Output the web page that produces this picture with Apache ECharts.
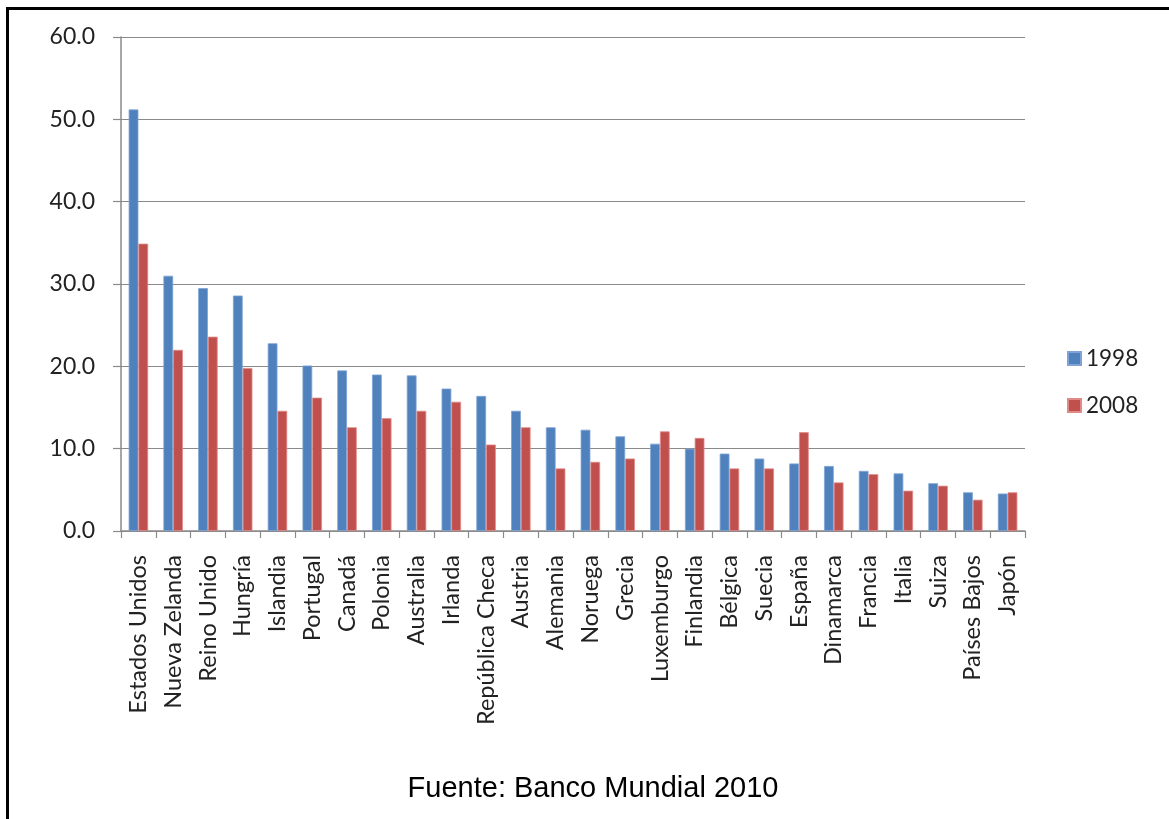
<!DOCTYPE html>
<html>
<head>
<meta charset="utf-8">
<script src="https://cdn.jsdelivr.net/npm/echarts@6/dist/echarts.min.js"></script>
<style>
html,body{margin:0;padding:0;background:#fff;}
#frame{position:absolute;left:6px;top:7px;width:1200px;height:900px;border-left:3px solid #000;border-top:3px solid #000;}
#chart{position:absolute;left:0;top:0;width:1169px;height:819px;}
</style>
</head>
<body>
<div id="frame"></div>
<div id="chart"></div>
<script>
const categories = ["Estados Unidos","Nueva Zelanda","Reino Unido","Hungría","Islandia","Portugal","Canadá","Polonia","Australia","Irlanda","República Checa","Austria","Alemania","Noruega","Grecia","Luxemburgo","Finlandia","Bélgica","Suecia","España","Dinamarca","Francia","Italia","Suiza","Países Bajos","Japón"];
const values1998 = [51.2,31.0,29.5,28.6,22.8,20.1,19.5,19.0,18.9,17.3,16.4,14.6,12.6,12.3,11.5,10.6,10.0,9.4,8.8,8.2,7.9,7.3,7.0,5.8,4.7,4.55];
const values2008 = [34.9,22.0,23.6,19.8,14.6,16.2,12.6,13.7,14.6,15.7,10.5,12.6,7.6,8.4,8.8,12.1,11.3,7.6,7.6,12.0,5.9,6.9,4.9,5.5,3.8,4.7];
const seriesNames = ["1998","2008"];
const yTicks = {min:0,max:60,interval:10};
const caption = "Fuente: Banco Mundial 2010";

const chart = echarts.init(document.getElementById('chart'));
const labelFont = "Lato";
chart.setOption({
  animation:false,
  backgroundColor:'transparent',
  grid:{left:121,top:37,right:144,bottom:288,containLabel:false},
  legend:{
    orient:'vertical',left:1067,top:347,padding:0,itemWidth:13,itemHeight:13,itemGap:24,
    icon:'rect',
    textStyle:{fontFamily:labelFont,fontSize:22.5,color:'#222'},
    data:seriesNames
  },
  graphic:[{type:'text',x:593,y:789,style:{text:caption,fontFamily:'Liberation Sans',fontSize:29,fill:'#000',textAlign:'center',textVerticalAlign:'middle'}}],
  xAxis:{
    type:'category',data:categories,
    axisLine:{lineStyle:{color:'#8a8a8a',width:1.5}},
    axisTick:{show:true,length:7,lineStyle:{color:'#8a8a8a',width:1.2}},
    axisLabel:{rotate:90,margin:24,interval:0,fontFamily:labelFont,fontSize:23.5,color:'#222'}
  },
  yAxis:{
    type:'value',min:yTicks.min,max:yTicks.max,interval:yTicks.interval,
    axisLine:{show:true,lineStyle:{color:'#8a8a8a',width:1.5}},
    axisTick:{show:true,length:8,lineStyle:{color:'#8a8a8a',width:1.2}},
    splitLine:{lineStyle:{color:'#8a8a8a',width:1.2}},
    axisLabel:{margin:26,fontFamily:labelFont,fontSize:23,color:'#222',formatter:v=>v.toFixed(1)}
  },
  series:[
    {name:seriesNames[0],type:'bar',data:values1998,barGap:'0%',barCategoryGap:'44%',itemStyle:{color:'#4F81BD',borderColor:'#7fa3d6',borderWidth:0.8}},
    {name:seriesNames[1],type:'bar',data:values2008,barGap:'0%',barCategoryGap:'44%',itemStyle:{color:'#C0504D',borderColor:'#e08a88',borderWidth:0.8}}
  ]
});
</script>
</body>
</html>
